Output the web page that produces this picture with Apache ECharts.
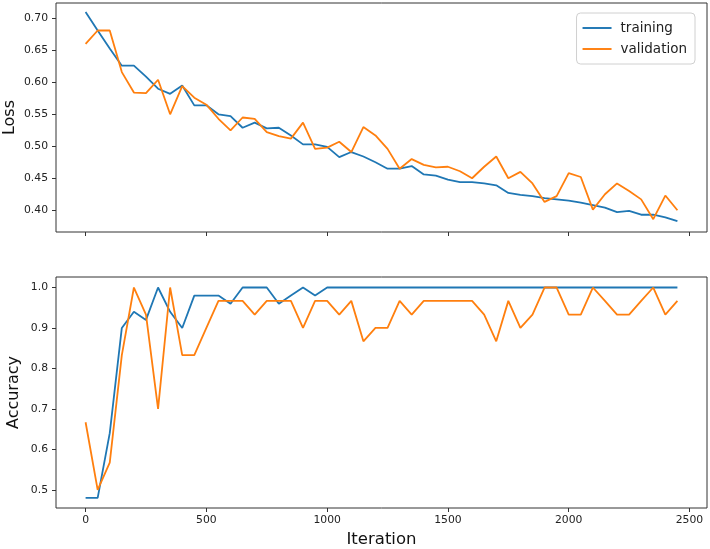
<!DOCTYPE html>
<html>
<head>
<meta charset="utf-8">
<script src="https://cdn.jsdelivr.net/npm/echarts@6/dist/echarts.min.js"></script>
<style>
html,body{margin:0;padding:0;background:#fff;}
#chart{width:710px;height:549px;}
</style>
</head>
<body>
<div id="chart"></div>
<script>
var iterations = [0,50,100,150,200,250,300,350,400,450,500,550,600,650,700,750,800,850,900,950,1000,1050,1100,1150,1200,1250,1300,1350,1400,1450,1500,1550,1600,1650,1700,1750,1800,1850,1900,1950,2000,2050,2100,2150,2200,2250,2300,2350,2400,2450];

var trainLoss = [0.710,0.681,0.653,0.626,0.626,0.609,0.590,0.582,0.595,0.564,0.564,0.550,0.547,0.529,0.537,0.528,0.529,0.517,0.503,0.503,0.499,0.483,0.491,0.484,0.475,0.465,0.465,0.469,0.456,0.454,0.448,0.444,0.444,0.442,0.439,0.427,0.424,0.422,0.419,0.417,0.415,0.412,0.408,0.404,0.397,0.399,0.393,0.393,0.389,0.383];
var valLoss = [0.660,0.681,0.681,0.616,0.584,0.583,0.604,0.550,0.594,0.576,0.565,0.543,0.525,0.545,0.543,0.522,0.516,0.512,0.537,0.496,0.498,0.507,0.491,0.530,0.517,0.496,0.465,0.480,0.471,0.467,0.468,0.461,0.450,0.468,0.484,0.450,0.460,0.442,0.413,0.422,0.458,0.452,0.401,0.425,0.442,0.430,0.417,0.386,0.423,0.400];

var trainAcc = [0.48,0.48,0.64,0.90,0.94,0.92,1.00,0.94,0.90,0.98,0.98,0.98,0.96,1.00,1.00,1.00,0.96,0.98,1.00,0.98,1.00,1.00,1.00,1.00,1.00,1.00,1.00,1.00,1.00,1.00,1.00,1.00,1.00,1.00,1.00,1.00,1.00,1.00,1.00,1.00,1.00,1.00,1.00,1.00,1.00,1.00,1.00,1.00,1.00,1.00];
var valAcc = [0.667,0.500,0.567,0.833,1.000,0.933,0.700,1.000,0.833,0.833,0.900,0.967,0.967,0.967,0.933,0.967,0.967,0.967,0.900,0.967,0.967,0.933,0.967,0.867,0.900,0.900,0.967,0.933,0.967,0.967,0.967,0.967,0.967,0.933,0.867,0.967,0.900,0.933,1.000,1.000,0.933,0.933,1.000,0.967,0.933,0.933,0.967,1.000,0.933,0.967];

var xTicks = [0,500,1000,1500,2000,2500];
var lossTicks = [0.40,0.45,0.50,0.55,0.60,0.65,0.70];
var accTicks = [0.5,0.6,0.7,0.8,0.9,1.0];

function pairs(xs, ys){ return xs.map(function(x,i){ return [x, ys[i]]; }); }

var BLUE = '#1f77b4', ORANGE = '#ff7f0e';
var FONT = 'DejaVu Sans';
var tickStyle = {show:true, length:4, inside:false, lineStyle:{color:'#333', width:1}};

var chart = echarts.init(document.getElementById('chart'), null, {renderer:'canvas'});
chart.setOption({
  animation:false,
  backgroundColor:'#fff',
  textStyle:{fontFamily:FONT},
  grid:[
    {left:56, right:3, top:3, height:229, containLabel:false, outerBoundsMode:'none',
     show:true, borderColor:'#333', borderWidth:1, backgroundColor:'transparent'},
    {left:56, right:3, top:277, height:231, containLabel:false, outerBoundsMode:'none',
     show:true, borderColor:'#333', borderWidth:1, backgroundColor:'transparent'}
  ],
  legend:{
    data:['training','validation'],
    orient:'vertical',
    right:15, top:13,
    padding:[8,8,8,6],
    itemGap:7,
    itemWidth:29, itemHeight:2,
    icon:'path://M0,0H30V2H0Z',
    backgroundColor:'rgba(255,255,255,0.85)',
    borderColor:'#d0d0d0', borderWidth:1, borderRadius:4,
    textStyle:{fontFamily:FONT, fontSize:13.5, color:'#222', padding:[0,0,0,4]}
  },
  xAxis:[
    {type:'value', gridIndex:0, min:-122.5, max:2572.5,
     axisLine:{show:false, onZero:false}, splitLine:{show:false},
     axisTick:Object.assign({customValues:xTicks}, tickStyle),
     axisLabel:{show:false, customValues:xTicks}},
    {type:'value', gridIndex:1, min:-122.5, max:2572.5,
     name:'Iteration', nameLocation:'middle', nameGap:23, nameMoveOverlap:false,
     nameTextStyle:{fontFamily:FONT, fontSize:16.5, color:'#111'},
     axisLine:{show:false, onZero:false}, splitLine:{show:false},
     axisTick:Object.assign({customValues:xTicks}, tickStyle),
     axisLabel:{customValues:xTicks, fontFamily:FONT, fontSize:10.8, color:'#222', margin:7,
       formatter:function(v){ return String(v); }}}
  ],
  yAxis:[
    {type:'value', gridIndex:0, min:0.366, max:0.724,
     name:'Loss', nameLocation:'middle', nameGap:38, nameMoveOverlap:false,
     nameTextStyle:{fontFamily:FONT, fontSize:16, color:'#111'},
     axisLine:{show:false, onZero:false}, splitLine:{show:false},
     axisTick:Object.assign({customValues:lossTicks}, tickStyle),
     axisLabel:{customValues:lossTicks, fontFamily:FONT, fontSize:10.8, color:'#222', margin:8,
       formatter:function(v){ return v.toFixed(2); }}},
    {type:'value', gridIndex:1, min:0.455, max:1.026,
     name:'Accuracy', nameLocation:'middle', nameGap:34, nameMoveOverlap:false,
     nameTextStyle:{fontFamily:FONT, fontSize:16, color:'#111'},
     axisLine:{show:false, onZero:false}, splitLine:{show:false},
     axisTick:Object.assign({customValues:accTicks}, tickStyle),
     axisLabel:{customValues:accTicks, fontFamily:FONT, fontSize:10.8, color:'#222', margin:8,
       formatter:function(v){ return v.toFixed(1); }}}
  ],
  series:[
    {name:'training', type:'line', xAxisIndex:0, yAxisIndex:0, data:pairs(iterations, trainLoss),
     showSymbol:false, symbol:'none', lineStyle:{color:BLUE, width:1.8}, itemStyle:{color:BLUE}},
    {name:'validation', type:'line', xAxisIndex:0, yAxisIndex:0, data:pairs(iterations, valLoss),
     showSymbol:false, symbol:'none', lineStyle:{color:ORANGE, width:1.8}, itemStyle:{color:ORANGE}},
    {name:'training', type:'line', xAxisIndex:1, yAxisIndex:1, data:pairs(iterations, trainAcc),
     showSymbol:false, symbol:'none', lineStyle:{color:BLUE, width:1.8}, itemStyle:{color:BLUE}},
    {name:'validation', type:'line', xAxisIndex:1, yAxisIndex:1, data:pairs(iterations, valAcc),
     showSymbol:false, symbol:'none', lineStyle:{color:ORANGE, width:1.8}, itemStyle:{color:ORANGE}}
  ]
});
</script>
</body>
</html>
